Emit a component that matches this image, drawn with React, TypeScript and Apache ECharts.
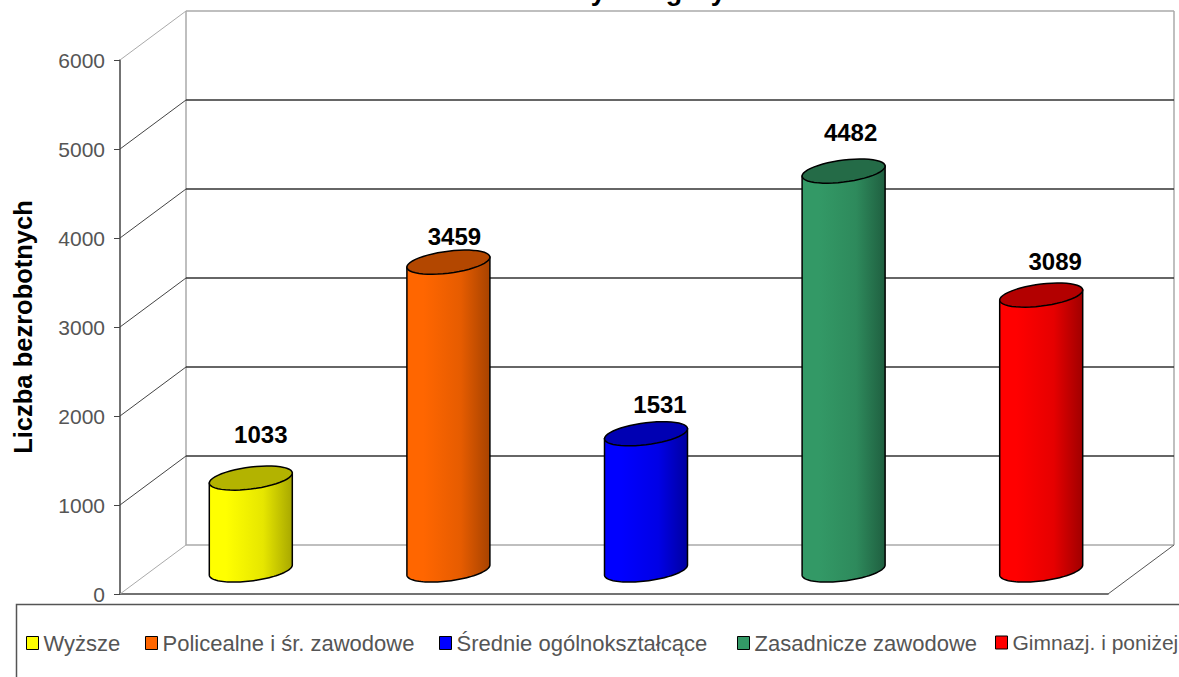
import React, { useEffect, useRef } from "react";
import * as echarts from "echarts";

const categories = ["Wyższe", "Policealne i śr. zawodowe", "Średnie ogólnokształcące", "Zasadnicze zawodowe", "Gimnazj. i poniżej"];
const values = [1033, 3459, 1531, 4482, 3089];
const barColors = ["#ffff00", "#ff6600", "#0000ff", "#339966", "#ff0000"];
const midColors = ["#e6e600", "#e65c00", "#0000e6", "#2e8a5c", "#e60000"];
const capColors = ["#b3b300", "#b34700", "#0000b3", "#246b47", "#b30000"];
const sideColors = ["#a8a800", "#a84300", "#0000a0", "#1f5f40", "#a00000"];
const yTicks = [0, 1000, 2000, 3000, 4000, 5000, 6000];
const legendLefts = [26, 145, 439, 737, 995];
const legendFontSizes = [22, 22, 22, 22, 21];
const labelDx = [10, 6, 14, 7, 14];
const labelDy = [-34, -16, -20, -29, -24];

const DX = 66;
const DY = -49;
const SHIFT_X = 32;
const SHIFT_Y = -24;
const RX = 41.5;
const SKEW = 5;
const RY = 11;

function disc(cx: number, cy: number, from: number, to: number) {
  const pts: number[][] = [];
  const n = 48;
  for (let i = 0; i <= n; i++) {
    const t = from + ((to - from) * i) / n;
    pts.push([cx + RX * Math.cos(t), cy - SKEW * Math.cos(t) + RY * Math.sin(t)]);
  }
  return pts;
}

function cylinderSeries(idx: number) {
  return {
    type: "custom",
    name: categories[idx],
    coordinateSystem: "cartesian2d",
    itemStyle: { color: barColors[idx] },
    encode: { x: 0, y: 1 },
    data: [[categories[idx], values[idx]]],
    z: 5,
    renderItem: (_: any, api: any) => {
      const top = api.coord([api.value(0), api.value(1)]);
      const base = api.coord([api.value(0), 0]);
      const cx = top[0] + SHIFT_X;
      const ty = top[1] + SHIFT_Y;
      const by = base[1] + SHIFT_Y;
      const lower = disc(cx, by, 0, Math.PI);
      const body = [[cx + RX, ty - SKEW], ...lower, [cx - RX, ty + SKEW]];
      const gradient = new echarts.graphic.LinearGradient(0, 0, 1, 0, [
        { offset: 0, color: barColors[idx] },
        { offset: 0.2, color: barColors[idx] },
        { offset: 0.65, color: midColors[idx] },
        { offset: 1, color: sideColors[idx] },
      ]);
      return {
        type: "group",
        children: [
          {
            type: "polygon",
            shape: { points: body },
            style: { fill: gradient, stroke: "#000", lineWidth: 1.5 },
          },
          {
            type: "polygon",
            shape: { points: disc(cx, ty, 0, Math.PI * 2) },
            style: { fill: capColors[idx], stroke: "#000", lineWidth: 1.5 },
          },
          {
            type: "text",
            style: {
              x: cx + labelDx[idx],
              y: ty + RY + labelDy[idx] - 20.5,
              text: String(values[idx]),
              fill: "#000",
              font: 'bold 24px "Liberation Sans", Arial, sans-serif',
              textAlign: "center",
              textVerticalAlign: "middle",
            },
          },
        ],
      };
    },
  };
}

const wallSeries = {
  type: "custom",
  name: "walls",
  coordinateSystem: "cartesian2d",
  silent: true,
  z: 1,
  encode: { x: 0, y: 1 },
  data: yTicks.map((t) => [categories[0], t]),
  renderItem: (params: any, api: any) => {
    const grid = params.coordSys;
    const v = api.value(1);
    const y = api.coord([api.value(0), v])[1];
    const left = grid.x;
    const right = grid.x + grid.width;
    const bottomY = api.coord([api.value(0), 0])[1];
    const topY = api.coord([api.value(0), 6000])[1];
    const edge = v === 0 || v === 6000;
    const children: any[] = [
      {
        type: "line",
        shape: { x1: left, y1: y, x2: left + DX, y2: y + DY },
        style: { stroke: edge ? "#aaa" : "#444", lineWidth: 1 },
      },
      {
        type: "line",
        shape: { x1: left + DX, y1: y + DY, x2: right + DX, y2: y + DY },
        style: { stroke: edge ? "#aaa" : "#333", lineWidth: 1.5 },
      },
    ];
    if (v === 0) {
      children.push(
        {
          type: "line",
          shape: { x1: left + DX, y1: bottomY + DY, x2: left + DX, y2: topY + DY },
          style: { stroke: "#aaa", lineWidth: 1.5 },
        },
        {
          type: "line",
          shape: { x1: right + DX, y1: bottomY + DY, x2: right + DX, y2: topY + DY },
          style: { stroke: "#aaa", lineWidth: 1.5 },
        },
        {
          type: "line",
          shape: { x1: right, y1: bottomY, x2: right + DX, y2: bottomY + DY },
          style: { stroke: "#555", lineWidth: 1 },
        }
      );
    }
    return { type: "group", children };
  },
};

export default function App() {
  const ref = useRef<HTMLDivElement>(null);
  useEffect(() => {
    const chart = echarts.init(ref.current!, undefined, { renderer: "svg" });
    chart.setOption({
      animation: false,
      backgroundColor: "#fff",
      title: {
        text: "Podział bezrobotnych wg wykształcenia",
        left: 609,
        top: -28,
        textAlign: "center",
        textStyle: { fontFamily: "Liberation Sans", fontWeight: "bold", fontSize: 27, color: "#000" },
      },
      grid: { left: 120, top: 60, width: 988, height: 534 },
      xAxis: {
        type: "category",
        data: categories,
        axisLabel: { show: false },
        axisTick: { show: false },
        axisLine: { lineStyle: { color: "#444", width: 1.5 } },
      },
      yAxis: {
        type: "value",
        min: 0,
        max: 6000,
        interval: 1000,
        name: "Liczba bezrobotnych",
        nameLocation: "middle",
        nameGap: 84,
        nameTextStyle: { fontFamily: "Liberation Sans", fontWeight: "bold", fontSize: 25.5, color: "#000" },
        axisLine: { show: true, lineStyle: { color: "#444", width: 1.5 } },
        axisTick: { show: true, length: 6, lineStyle: { color: "#444" } },
        axisLabel: {
          margin: 15,
          fontFamily: "Liberation Sans",
          fontSize: 21,
          color: "#555",
          formatter: (v: number) => String(v),
        },
        splitLine: { show: false },
      },
      legend: categories.map((c, i) => ({
        data: [{ name: c, icon: "rect", itemStyle: { color: barColors[i], borderColor: "#000", borderWidth: 1 } }],
        left: legendLefts[i],
        top: 632,
        itemWidth: 12,
        itemHeight: 13,
        selectedMode: false,
        padding: 0,
        textStyle: { fontFamily: "Liberation Sans", fontSize: legendFontSizes[i], color: "#555" },
      })),
      graphic: [
        {
          type: "rect",
          z: -1,
          shape: { x: 16.5, y: 604.5, width: 1300, height: 200 },
          style: { fill: "#fff", stroke: "#555", lineWidth: 1.5 },
        },
      ],
      series: [wallSeries, ...categories.map((_, i) => cylinderSeries(i))],
    });
    return () => chart.dispose();
  }, []);
  return (
    <div
      ref={ref}
      style={{ position: "fixed", left: 0, top: 0, width: 1179, height: 677 }}
    />
  );
}
